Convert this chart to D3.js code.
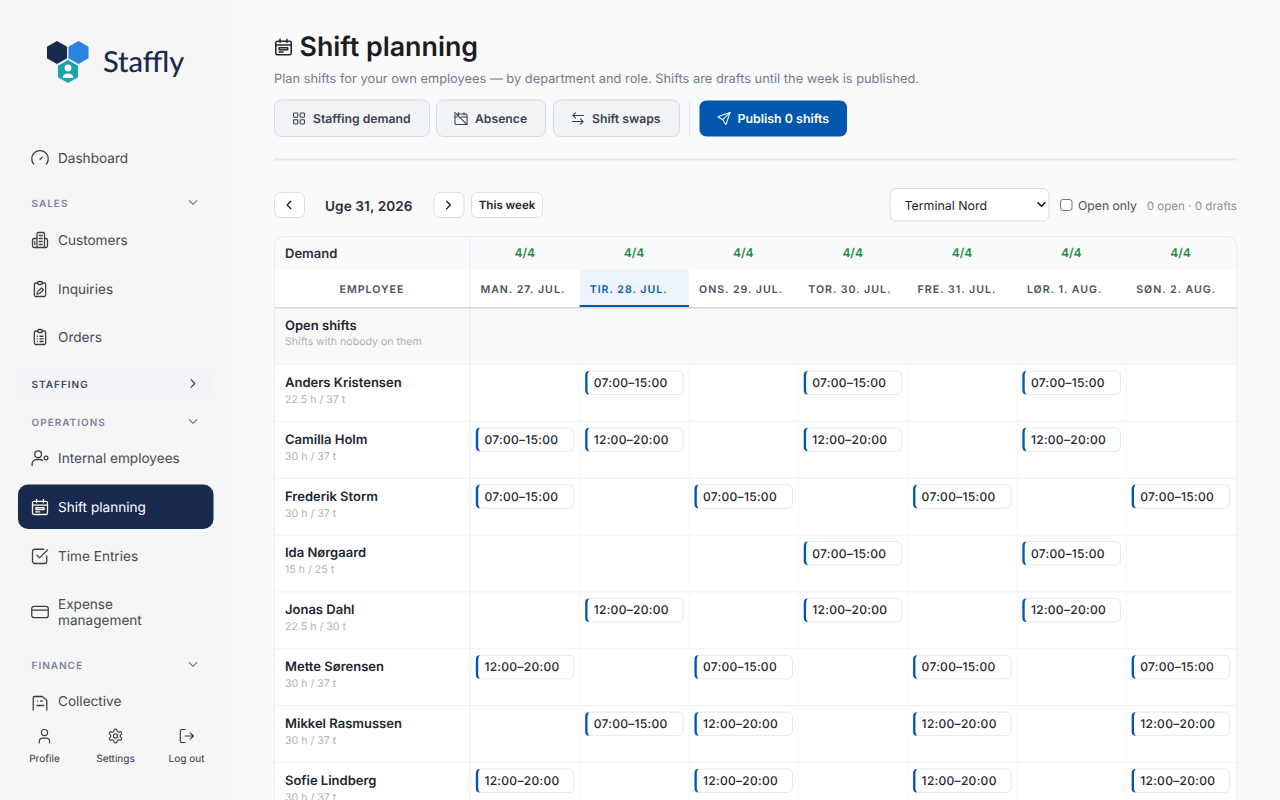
<!DOCTYPE html>
<html lang="en">
<head>
<meta charset="UTF-8">
<title>Shift planning</title>
<script src="https://cdn.jsdelivr.net/npm/d3@7"></script>
<style>
    html, body { margin: 0; padding: 0; overflow: hidden; background: #f9fafc; }
    svg { display: block; font-family: Inter, sans-serif; text-rendering: geometricPrecision; }
</style>
</head>
<body>
<script>
    // Grid data
    const days = ["MAN. 27. JUL.", "TIR. 28. JUL.", "ONS. 29. JUL.", "TOR. 30. JUL.", "FRE. 31. JUL.", "LØR. 1. AUG.", "SØN. 2. AUG."];
    const demand = ["4/4", "4/4", "4/4", "4/4", "4/4", "4/4", "4/4"];
    const employees = ["Anders Kristensen", "Camilla Holm", "Frederik Storm", "Ida Nørgaard", "Jonas Dahl", "Mette Sørensen", "Mikkel Rasmussen", "Sofie Lindberg"];
    const hours = ["22.5 h / 37 t", "30 h / 37 t", "30 h / 37 t", "15 h / 25 t", "22.5 h / 30 t", "30 h / 37 t", "30 h / 37 t", "30 h / 37 t"];
    const A = "07:00–15:00", B = "12:00–20:00", _ = null;
    const shifts = [
        [_, A, _, A, _, A, _],
        [A, B, _, B, _, B, _],
        [A, _, A, _, A, _, A],
        [_, _, _, A, _, A, _],
        [_, B, _, B, _, B, _],
        [B, _, A, _, A, _, A],
        [_, A, B, _, B, _, B],
        [B, _, B, _, B, _, B]
    ];
    const todayIndex = 1;

    // Sidebar data
    const navItems = [
        ["Dashboard", 158, "gauge"], ["Customers", 240, "building"], ["Inquiries", 289, "inquiry"],
        ["Orders", 337, "orders"], ["Internal employees", 458, "userCog"], ["Shift planning", 507, "calendar"],
        ["Time Entries", 556, "check"], ["Expense\nmanagement", 612, "card"], ["Collective", 701, "collective"]
    ];
    const navSections = [["SALES", 203, "down"], ["STAFFING", 384, "right"], ["OPERATIONS", 422, "down"], ["FINANCE", 665, "down"]];
    const footerItems = [["Profile", 44.5, "user"], ["Settings", 115.5, "gear"], ["Log out", 186.5, "logout"]];
    const toolButtons = [["Staffing demand", 274.5, 155, "grid"], ["Absence", 436.5, 109, "calOff"], ["Shift swaps", 553.5, 126, "swap"]];

    const icons = {
        gauge: ["M3.500 20a11 11 0 1 1 17 0", "M12 14l3-3"],
        building: ["M8 22V4a2 2 0 0 1 2-2h6a2 2 0 0 1 2 2v18", "M8 10H4a2 2 0 0 0-2 2v8a2 2 0 0 0 2 2h16a2 2 0 0 0 2-2v-8a2 2 0 0 0-2-2h-2", "M11 6h4M11 10h4M11 14h4M11 18h4M5 14v4"],
        inquiry: ["M9 4H6.500a2 2 0 0 0-2 2v14a2 2 0 0 0 2 2h11a2 2 0 0 0 2-2V6a2 2 0 0 0-2-2H15", "M9 3.500a1.500 1.500 0 0 1 1.500-1.500h3a1.500 1.500 0 0 1 1.500 1.500v1a1.500 1.500 0 0 1-1.500 1.500h-3a1.500 1.500 0 0 1-1.500-1.500z", "M8 19l1-3.500 5-5 2.500 2.500-5 5z"],
        orders: ["M9 4H6.500a2 2 0 0 0-2 2v14a2 2 0 0 0 2 2h11a2 2 0 0 0 2-2V6a2 2 0 0 0-2-2H15", "M9 3.500a1.500 1.500 0 0 1 1.500-1.500h3a1.500 1.500 0 0 1 1.500 1.500v1a1.500 1.500 0 0 1-1.500 1.500h-3a1.500 1.500 0 0 1-1.500-1.500z", "M8.500 11h.01M12 11h4M8.500 14.500h.01M12 14.500h4M8.500 18h.01M12 18h4"],
        userCog: ["M5 7a4.500 4.500 0 1 0 9 0a4.500 4.500 0 1 0-9 0", "M1.500 22v-2a6 6 0 0 1 6-6h4a6 6 0 0 1 4 1.500", "M20 9.500a2.500 2.500 0 1 0 0 5a2.500 2.500 0 1 0 0-5"],
        calendar: ["M4 4.500h16a2 2 0 0 1 2 2v13.500a2 2 0 0 1-2 2H4a2 2 0 0 1-2-2V6.500a2 2 0 0 1 2-2z", "M7.500 2v4M16.500 2v4M2 9.500h20", "M6.500 13h11v2.500h-11zM6.500 18.500h5"],
        check: ["M21 12v7a3 3 0 0 1-3 3H5a3 3 0 0 1-3-3V6a3 3 0 0 1 3-3h12", "M8 11l3.500 3.500L22 4"],
        card: ["M4 4.500h16a3 3 0 0 1 3 3v9a3 3 0 0 1-3 3H4a3 3 0 0 1-3-3v-9a3 3 0 0 1 3-3z", "M1 9.500h22"],
        collective: ["M3 24V8a2 2 0 0 1 2-2h10l6 5v13", "M9 12h.01M13 12h2M8 18h9"],
        user: ["M7.500 7a4.500 4.500 0 1 0 9 0a4.500 4.500 0 1 0-9 0", "M4.500 22v-2a5 5 0 0 1 5-5h5a5 5 0 0 1 5 5v2"],
        gear: ["M12.220 2h-.44a2 2 0 0 0-2 2v.18a2 2 0 0 1-1 1.730l-.43.25a2 2 0 0 1-2 0l-.15-.08a2 2 0 0 0-2.730.730l-.22.38a2 2 0 0 0 .73 2.730l.15.1a2 2 0 0 1 1 1.720v.51a2 2 0 0 1-1 1.740l-.15.09a2 2 0 0 0-.73 2.730l.22.38a2 2 0 0 0 2.730.73l.15-.08a2 2 0 0 1 2 0l.43.25a2 2 0 0 1 1 1.730V20a2 2 0 0 0 2 2h.44a2 2 0 0 0 2-2v-.18a2 2 0 0 1 1-1.730l.43-.25a2 2 0 0 1 2 0l.15.08a2 2 0 0 0 2.730-.73l.22-.39a2 2 0 0 0-.73-2.730l-.15-.08a2 2 0 0 1-1-1.740v-.5a2 2 0 0 1 1-1.740l.15-.09a2 2 0 0 0 .73-2.730l-.22-.38a2 2 0 0 0-2.730-.73l-.15.08a2 2 0 0 1-2 0l-.43-.25a2 2 0 0 1-1-1.730V4a2 2 0 0 0-2-2z", "M9 12a3 3 0 1 0 6 0a3 3 0 1 0-6 0"],
        logout: ["M10 2.500H5a2 2 0 0 0-2 2v15a2 2 0 0 0 2 2h5", "M10 12h12M17.500 7.500L22 12l-4.500 4.500"],
        grid: ["M3 4a1 1 0 0 1 1-1h5a1 1 0 0 1 1 1v5a1 1 0 0 1-1 1H4a1 1 0 0 1-1-1zM14 4a1 1 0 0 1 1-1h5a1 1 0 0 1 1 1v5a1 1 0 0 1-1 1h-5a1 1 0 0 1-1-1zM3 15a1 1 0 0 1 1-1h5a1 1 0 0 1 1 1v5a1 1 0 0 1-1 1H4a1 1 0 0 1-1-1zM14 15a1 1 0 0 1 1-1h5a1 1 0 0 1 1 1v5a1 1 0 0 1-1 1h-5a1 1 0 0 1-1-1z"],
        calOff: ["M6 4.500h14a2 2 0 0 1 2 2v15.500H4a2 2 0 0 1-2-2V5", "M8 2v4M17 2v4M2 9.500h4M12 9.500h10M1.500 2L22 22"],
        swap: ["M21 7H3.500M8 2.500L3.500 7 8 11.500", "M3 17h17.500M16 12.500l4.500 4.500-4.500 4.500"],
        send: ["M22 2L10 14", "M22 2l-6.500 19.500a.5.5 0 0 1-.9 0L10 14 2.500 9.500a.5.5 0 0 1 0-.9z"],
        left: ["M15 6l-6 6 6 6"], right: ["M9 6l6 6-6 6"], down: ["M6 9l6 6 6-6"]
    };

    const svg = d3.select("body").append("svg").attr("width", 1280).attr("height", 800).attr("viewBox", "0 0 1280 800");

    // small helpers
    function addText(parent, str, x, y, size, weight, fill, anchor, spacing) {
        return parent.append("text").attr("x", x).attr("y", y)
            .attr("font-size", size).attr("font-weight", weight).attr("fill", fill)
            .attr("text-anchor", anchor || "start").attr("letter-spacing", spacing || 0)
            .text(str);
    }
    function addIcon(parent, name, cx, cy, size, color, sw) {
        const g = parent.append("g")
            .attr("transform", `translate(${cx - size / 2},${cy - size / 2}) scale(${size / 24})`)
            .attr("fill", "none").attr("stroke", color).attr("stroke-width", sw || 2)
            .attr("stroke-linecap", "round").attr("stroke-linejoin", "round");
        g.selectAll("path").data(icons[name]).enter().append("path").attr("d", d => d);
    }
    function hexPath(cx, cy, r) {
        const pts = d3.range(6).map(i => {
            const a = Math.PI / 3 * i - Math.PI / 2;
            return [cx + r * Math.cos(a), cy + r * Math.sin(a)];
        });
        return d3.line().curve(d3.curveLinearClosed)(pts);
    }

    // ---- sidebar ----
    const side = svg.append("g");
    side.append("rect").attr("width", 231).attr("height", 800).attr("fill", "#f6f6f7");

    side.append("path").attr("d", hexPath(57, 52.5, 11.6)).attr("fill", "#1a2a4e");
    side.append("path").attr("d", hexPath(78.5, 52.5, 11.6)).attr("fill", "#2b83e0");
    side.append("path").attr("d", hexPath(68, 71.5, 11.6)).attr("fill", "#17a5a8");
    side.append("circle").attr("cx", 68).attr("cy", 68).attr("r", 3.4).attr("fill", "#fff");
    side.append("path").attr("d", "M62.500 78a5.500 4.500 0 0 1 11 0z").attr("fill", "#fff");
    addText(side, "Staffly", 103, 71.5, 29, 500, "#1a2a4e").attr("font-family", "Lato, sans-serif");

    // active row + staffing section background
    side.append("rect").attr("x", 18).attr("y", 370).attr("width", 195.5).attr("height", 27.5).attr("rx", 6).attr("fill", "#f3f4f7");
    side.append("rect").attr("x", 18).attr("y", 484.5).attr("width", 195.5).attr("height", 44.5).attr("rx", 10).attr("fill", "#1a2a4e");

    navSections.forEach(([label, y, chev]) => {
        const open = label === "STAFFING";
        addText(side, label, 31.5, y + 4, 10, 600, open ? "#3d4657" : "#7a8299", "start", 1);
        addIcon(side, chev, 193, y - 0.5, 15, open ? "#3d4657" : "#6f778c", 1.8);
    });

    navItems.forEach(([label, y, icon]) => {
        const active = label === "Shift planning";
        const color = active ? "#ffffff" : "#444a52";
        addIcon(side, icon, 40, y, 18, active ? "#ffffff" : "#3a3f47", 1.7);
        label.split("\n").forEach((line, i, all) => {
            addText(side, line, 58, y + 4.700 + (i - (all.length - 1) / 2) * 16, 13.6, 400, color);
        });
    });

    // footer covers the scrolled list
    side.append("rect").attr("y", 711).attr("width", 231).attr("height", 89).attr("fill", "#f6f6f7");
    footerItems.forEach(([label, x, icon]) => {
        addIcon(side, icon, x, 736, 16.5, "#3a3f47", 1.7);
        addText(side, label, x, 762, 10.1, 400, "#33373d", "middle");
    });

    // ---- header ----
    const head = svg.append("g");
    addIcon(head, "calendar", 283.5, 47, 18.5, "#23272e", 2);
    addText(head, "Shift planning", 299.5, 56, 26.8, 600, "#191c20");
    addText(head, "Plan shifts for your own employees — by department and role. Shifts are drafts until the week is published.", 274, 82.7, 12.85, 400, "#737b8c");

    toolButtons.forEach(([label, x, w, icon]) => {
        head.append("rect").attr("x", x).attr("y", 100).attr("width", w).attr("height", 36.5).attr("rx", 7)
            .attr("fill", "#f3f4f6").attr("stroke", "#d8dbe0");
        addIcon(head, icon, x + 24.5, 118.5, 14.5, "#39414f", 1.8);
        addText(head, label, x + 38.5, 123, 12.2, 600, "#39414f");
    });
    head.append("line").attr("x1", 689.5).attr("x2", 689.5).attr("y1", 100).attr("y2", 137).attr("stroke", "#e6e8ec");
    head.append("rect").attr("x", 699.5).attr("y", 100.5).attr("width", 147.5).attr("height", 36).attr("rx", 7).attr("fill", "#0057ad");
    addIcon(head, "send", 724, 118.5, 14.5, "#ffffff", 1.7);
    addText(head, "Publish 0 shifts", 737.5, 123, 12.4, 600, "#ffffff");
    head.append("rect").attr("x", 274).attr("y", 158.5).attr("width", 963).attr("height", 2).attr("fill", "#e5e7eb");

    // ---- toolbar ----
    const bar = svg.append("g");
    [[274.5, 30, "left"], [434, 30, "right"]].forEach(([x, w, icon]) => {
        bar.append("rect").attr("x", x).attr("y", 192.5).attr("width", w).attr("height", 25).attr("rx", 6).attr("fill", "#fff").attr("stroke", "#dcdfe4");
        addIcon(bar, icon, x + w / 2 - 0.5, 205, 15, "#1c1f24", 2);
    });
    addText(bar, "Uge 31, 2026", 325, 211, 13.6, 600, "#282d36", "start", 0.1);
    bar.append("rect").attr("x", 471.5).attr("y", 192.5).attr("width", 71).attr("height", 25).attr("rx", 6).attr("fill", "#fff").attr("stroke", "#dcdfe4");
    addText(bar, "This week", 507, 209, 11.5, 600, "#1c1f24", "middle");

    bar.append("rect").attr("x", 890).attr("y", 188.500).attr("width", 159).attr("height", 32.5).attr("rx", 6).attr("fill", "#fff").attr("stroke", "#d8dbe0");
    addText(bar, "Terminal Nord", 904.5, 209.7, 12.4, 400, "#212529");
    addIcon(bar, "down", 1041.5, 204.5, 14, "#16181c", 2.8);
    bar.append("rect").attr("x", 1060.5).attr("y", 199.5).attr("width", 11.5).attr("height", 11).attr("rx", 2.5).attr("fill", "#fff").attr("stroke", "#767676");
    addText(bar, "Open only", 1078, 210, 12.2, 400, "#4a505a");
    addText(bar, "0 open · 0 drafts", 1237, 210, 11.6, 400, "#8a91a0", "end");

    // ---- planning grid ----
    const gridX0 = 470.4, gridX1 = 1237, tableX = 274.5, tableTop = 236.5, rowTop = 364.5, rowH = 56.86;
    const xDay = d3.scaleBand().domain(d3.range(days.length)).range([gridX0, 1235.5]);
    const yEmp = d3.scaleBand().domain(d3.range(employees.length)).range([rowTop, rowTop + rowH * employees.length]);

    const clipDef = svg.append("defs").append("clipPath").attr("id", "tableClip");
    clipDef.append("rect").attr("x", tableX).attr("y", tableTop).attr("width", gridX1 - tableX).attr("height", 700).attr("rx", 10);
    const table = svg.append("g").attr("clip-path", "url(#tableClip)");

    table.append("rect").attr("x", tableX).attr("y", tableTop).attr("width", gridX1 - tableX).attr("height", 700).attr("fill", "#fff");
    // demand row
    table.append("rect").attr("x", tableX).attr("y", tableTop).attr("width", gridX1 - tableX).attr("height", 33).attr("fill", "#f9fafc");
    // open shifts row
    table.append("rect").attr("x", tableX).attr("y", 308).attr("width", gridX1 - tableX).attr("height", rowTop - 308).attr("fill", "#f9f9fa");

    // today column header
    table.append("rect").attr("x", xDay(todayIndex)).attr("y", 269.5).attr("width", xDay.bandwidth()).attr("height", 36).attr("fill", "#eef4fc");
    table.append("rect").attr("x", xDay(todayIndex)).attr("y", 305).attr("width", xDay.bandwidth()).attr("height", 2).attr("fill", "#0057ad");

    // row lines
    table.selectAll("line.row").data(d3.range(employees.length)).enter().append("line")
        .attr("class", "row").attr("x1", tableX).attr("x2", gridX1)
        .attr("y1", d => yEmp(d)).attr("y2", d => yEmp(d)).attr("stroke", "#f0f1f4");
    // column lines in the body
    table.selectAll("line.col").data(d3.range(1, days.length)).enter().append("line")
        .attr("class", "col").attr("x1", d => xDay(d)).attr("x2", d => xDay(d))
        .attr("y1", rowTop).attr("y2", 800).attr("stroke", "#f7f8fa");
    table.append("line").attr("x1", 470).attr("x2", 470).attr("y1", tableTop).attr("y2", 800).attr("stroke", "#e9ebef");
    table.append("rect").attr("x", tableX).attr("y", 307).attr("width", xDay(todayIndex) - tableX).attr("height", 1.5).attr("fill", "#d5d8de");
    table.append("rect").attr("x", xDay(todayIndex), 0).attr("y", 307).attr("width", gridX1 - xDay(todayIndex)).attr("height", 1.5).attr("fill", "#d5d8de");

    addText(table, "Demand", 285, 258, 13, 600, "#2a303b");
    addText(table, "EMPLOYEE", 372, 292.500, 10.6, 600, "#4a5261", "middle", 1);
    addText(table, "Open shifts", 285, 330, 13, 600, "#222731");
    addText(table, "Shifts with nobody on them", 285, 345, 10.6, 400, "#adb2bc");

    table.selectAll("text.demand").data(demand).enter().append("text")
        .attr("class", "demand")
        .attr("x", (d, i) => xDay(i) + xDay.bandwidth() / 2 - 0.3).attr("y", 257)
        .attr("text-anchor", "middle").attr("font-size", 12).attr("font-weight", 600)
        .attr("fill", "#1f8a44").text(d => d);

    table.selectAll("text.day").data(days).enter().append("text")
        .attr("class", "day")
        .attr("x", (d, i) => xDay(i) + 10).attr("y", 292.500)
        .attr("font-size", 10.6).attr("font-weight", 600).attr("letter-spacing", 1)
        .attr("fill", (d, i) => i === todayIndex ? "#0b5cad" : "#4a5261").text(d => d);

    const rows = table.selectAll("g.emp").data(employees).enter().append("g").attr("class", "emp")
        .attr("transform", (d, i) => `translate(0,${yEmp(i)})`);
    rows.append("text").attr("x", 285).attr("y", 22.3).attr("font-size", 13).attr("font-weight", 600).attr("fill", "#222731").text(d => d);
    rows.append("text").attr("x", 285).attr("y", 38.3).attr("font-size", 10.6).attr("fill", "#adb2bc").text((d, i) => hours[i]);

    // shift chips
    const chipW = 98, chipH = 23.5;
    const chips = rows.selectAll("g.chip")
        .data((d, r) => shifts[r].map((s, c) => ({ s, c })).filter(d => d.s))
        .enter().append("g").attr("class", "chip")
        .attr("transform", d => `translate(${xDay(d.c) + 5},6)`);
    chips.append("rect").attr("x", 0.5).attr("y", 0.5).attr("width", chipW).attr("height", chipH).attr("rx", 5)
        .attr("fill", "#fff").attr("stroke", "#e6e8ee");
    chips.append("path")
        .attr("d", `M4.500 0.5 A4 4 0 0 0 0.5 4.500 V${chipH - 3.5} A4 4 0 0 0 4.500 ${chipH + 0.5} A7 7 0 0 1 2.800 ${chipH - 3.5} V4.500 A7 7 0 0 1 4.500 0.5 Z`)
        .attr("fill", "#0057ad");
    chips.append("text").attr("x", 9).attr("y", 16.500).attr("font-size", 12).attr("font-weight", 500).attr("letter-spacing", 0.3).attr("fill", "#23272e").text(d => d.s);

    // table outline on top
    svg.append("rect").attr("x", tableX).attr("y", tableTop).attr("width", gridX1 - tableX).attr("height", 700).attr("rx", 10)
        .attr("fill", "none").attr("stroke", "#e9ebef");
</script>
</body>
</html>
